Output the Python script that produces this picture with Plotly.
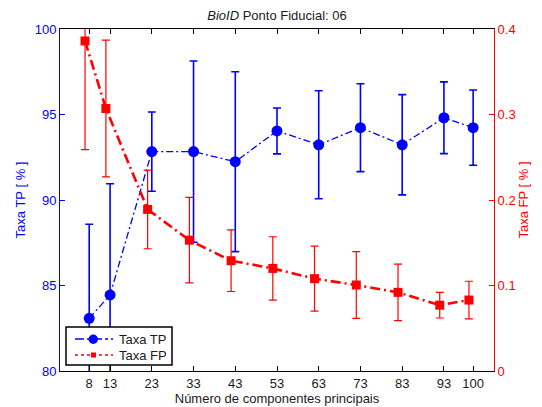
import plotly.graph_objects as go

components = [8, 13, 23, 33, 43, 53, 63, 73, 83, 93, 100]
tick_labels = ["8", "13", "23", "33", "43", "53", "63", "73", "83", "93", "100"]
tp_rate = [83.08, 84.45, 92.83, 92.83, 92.24, 94.04, 93.23, 94.23, 93.23, 94.81, 94.23]
tp_err = [5.5, 6.5, 2.32, 5.3, 5.26, 1.34, 3.16, 2.57, 2.93, 2.1, 2.2]
fp_rate = [0.386, 0.307, 0.189, 0.153, 0.129, 0.120, 0.108, 0.1006, 0.092, 0.077, 0.083]
fp_err = [0.127, 0.080, 0.046, 0.050, 0.036, 0.037, 0.038, 0.039, 0.033, 0.015, 0.022]
fp_shift = -1  # FP series is drawn slightly left of the tick
series_names = ["Taxa TP", "Taxa FP"]

FONT = "Liberation Sans, Arial, sans-serif"
BLUE = "#0000ff"
RED = "#ff0000"
TXT = "#1a1a1a"

# page has an 8px body margin; size the figure so the plot lands where the reference has it
OFF = 8
W, H = 534, 399
ML, MR, MT, MB = 52, 48, 21, 36
PW, PH = W - ML - MR, H - MT - MB


def px(xp):
    return (xp - OFF - ML) / PW


def py(yp):
    return (H - MB - (yp - OFF)) / PH


fig = go.Figure()
fig.add_trace(go.Scatter(
    x=components, y=tp_rate, name=series_names[0], mode="lines+markers",
    line=dict(color=BLUE, width=1.3, dash="7px,3px,2px,3px"),
    marker=dict(symbol="circle", size=11, color=BLUE),
    error_y=dict(type="data", array=tp_err, color=BLUE, thickness=1.6, width=4),
    yaxis="y", cliponaxis=True, showlegend=False,
))
fig.add_trace(go.Scatter(
    x=[c + fp_shift for c in components], y=fp_rate, name=series_names[1], mode="lines+markers",
    line=dict(color=RED, width=2.6, dash="10px,4px,2px,4px"),
    marker=dict(symbol="square", size=9, color=RED),
    error_y=dict(type="data", array=fp_err, color=RED, thickness=1.2, width=4),
    yaxis="y2", cliponaxis=True, showlegend=False,
))

# Legend box drawn by hand (compact, MATLAB style)
shapes = [
    dict(type="rect", xref="paper", yref="paper", x0=px(66), x1=px(172), y0=py(365), y1=py(327),
         line=dict(color="black", width=1.5), fillcolor="white", layer="above"),
    dict(type="line", xref="paper", yref="paper", x0=px(75), x1=px(113), y0=py(339), y1=py(339),
         line=dict(color=BLUE, width=1.3, dash="dashdot"), layer="above"),
    dict(type="circle", xref="paper", yref="paper", x0=px(88.5), x1=px(98), y0=py(344), y1=py(334.5),
         line=dict(color=BLUE, width=0), fillcolor=BLUE, layer="above"),
    dict(type="line", xref="paper", yref="paper", x0=px(75), x1=px(113), y0=py(355), y1=py(355),
         line=dict(color=RED, width=1.3, dash="dot"), layer="above"),
    dict(type="rect", xref="paper", yref="paper", x0=px(91), x1=px(96), y0=py(357.5), y1=py(352.5),
         line=dict(color=RED, width=0), fillcolor=RED, layer="above"),
]
annotations = [
    dict(text=series_names[0], xref="paper", yref="paper", x=px(117), y=py(339), xanchor="left",
         yanchor="middle", showarrow=False, font=dict(size=13, color=TXT)),
    dict(text=series_names[1], xref="paper", yref="paper", x=px(117), y=py(355), xanchor="left",
         yanchor="middle", showarrow=False, font=dict(size=13, color=TXT)),
]

fig.update_layout(
    width=W, height=H,
    margin=dict(l=ML, r=MR, t=MT, b=MB, autoexpand=False),
    paper_bgcolor="white", plot_bgcolor="white",
    font=dict(family=FONT, size=13, color=TXT),
    title=dict(text="<i>BioID</i> Ponto Fiducial: 06", x=(ML + PW / 2) / W, xanchor="center",
               automargin=False, y=1 - 7 / H, yanchor="middle", font=dict(size=13, color=TXT)),
    showlegend=False,
    shapes=shapes, annotations=annotations,
    xaxis=dict(range=[1, 105], tickmode="array", tickvals=components, ticktext=tick_labels,
               ticks="inside", ticklen=5, tickcolor="black", showgrid=False, zeroline=False,
               showline=True, linecolor="black", linewidth=1, mirror="ticks", automargin=False,
               tickfont=dict(size=13, color=TXT),
               title=dict(text="Número de componentes principais", font=dict(size=13, color=TXT), standoff=2)),
    yaxis=dict(range=[80, 100], tickvals=[80, 85, 90, 95, 100], ticks="inside", ticklen=5,
               tickcolor=BLUE, showgrid=False, zeroline=False, showline=True, linecolor=BLUE,
               linewidth=1, tickfont=dict(size=13, color=BLUE), automargin=False,
               title=dict(text="Taxa TP [ % ]", font=dict(size=13, color=BLUE), standoff=6)),
    yaxis2=dict(range=[0, 0.4], tickvals=[0, 0.1, 0.2, 0.3, 0.4], ticktext=["0", "0.1", "0.2", "0.3", "0.4"],
                overlaying="y", side="right", ticks="inside", ticklen=5, tickcolor=RED,
                showgrid=False, zeroline=False, showline=True, linecolor=RED, linewidth=1,
                tickfont=dict(size=13, color=RED), automargin=False,
                title=dict(text="Taxa FP [ % ]", font=dict(size=13, color=RED), standoff=4)),
)

fig.write_html("out.html")
